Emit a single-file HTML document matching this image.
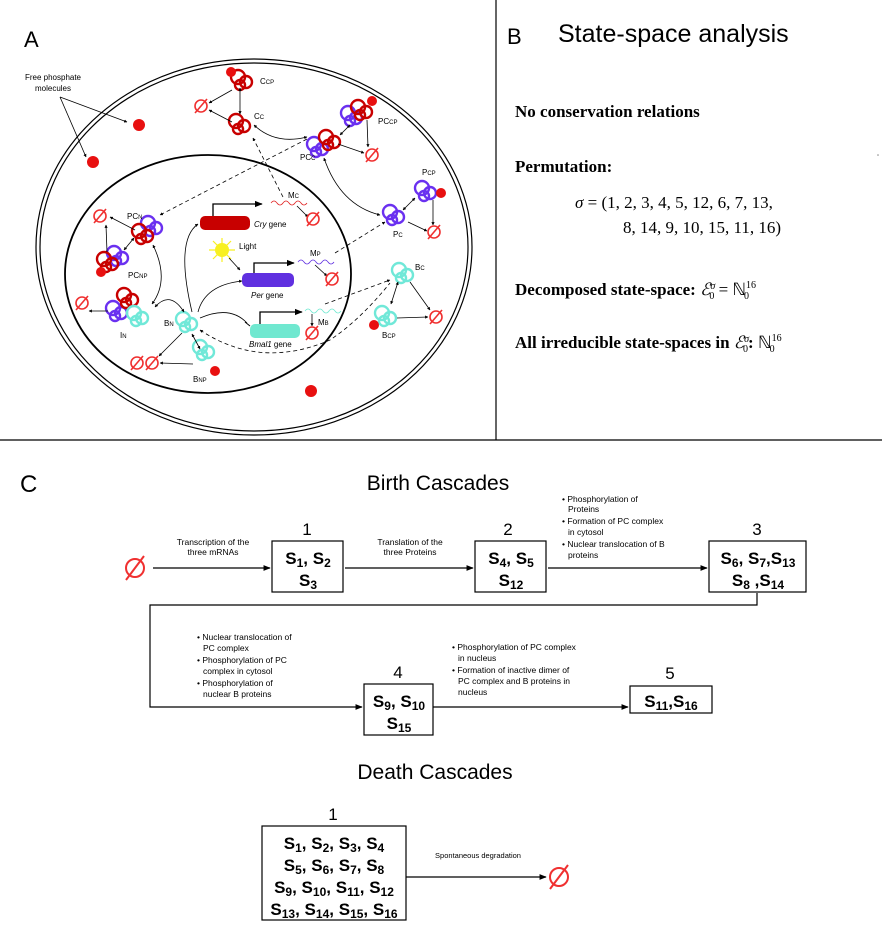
<!DOCTYPE html>
<html><head><meta charset="utf-8"><style>
body{margin:0;background:#fff}
svg{display:block}
.s{font-family:"Liberation Sans",sans-serif}
.sf{font-family:"Liberation Serif",serif}
</style></head><body>
<svg width="882" height="945" viewBox="0 0 882 945" xmlns="http://www.w3.org/2000/svg">
<defs>
<marker id="a" viewBox="0 0 10 10" refX="9" refY="5" markerWidth="6" markerHeight="6" orient="auto-start-reverse"><path d="M0,1 L10,5 L0,9z" fill="#000"/></marker>
<marker id="b" viewBox="0 0 10 10" refX="9" refY="5" markerWidth="4" markerHeight="4" orient="auto-start-reverse"><path d="M0,0 L10,5 L0,10z" fill="#000"/></marker>
<g id="nul"><circle r="6" fill="none" stroke="#f03030" stroke-width="1.6"/><line x1="-6" y1="7" x2="6" y2="-7" stroke="#f03030" stroke-width="1.6"/></g>
<g id="red"><circle cx="-4" cy="-3" r="7" fill="none" stroke="#c80000" stroke-width="2.4"/><circle cx="4" cy="2" r="6" fill="none" stroke="#c80000" stroke-width="2.4"/><circle cx="-2" cy="5" r="5" fill="none" stroke="#c80000" stroke-width="2.4"/></g>
<g id="pur"><circle cx="-4" cy="-3" r="7" fill="none" stroke="#6a30f0" stroke-width="2.4"/><circle cx="4" cy="2" r="6" fill="none" stroke="#6a30f0" stroke-width="2.4"/><circle cx="-2" cy="5" r="5" fill="none" stroke="#6a30f0" stroke-width="2.4"/></g>
<g id="cya"><circle cx="-4" cy="-3" r="7" fill="none" stroke="#70e8d8" stroke-width="2.4"/><circle cx="4" cy="2" r="6" fill="none" stroke="#70e8d8" stroke-width="2.4"/><circle cx="-2" cy="5" r="5" fill="none" stroke="#70e8d8" stroke-width="2.4"/></g>
</defs>

<line x1="496" y1="0" x2="496" y2="440" stroke="#000" stroke-width="1.2"/>
<line x1="0" y1="440" x2="882" y2="440" stroke="#000" stroke-width="1.2"/>

<text x="24" y="47" class="s" font-size="22">A</text>
<ellipse cx="254" cy="247" rx="218" ry="188" fill="none" stroke="#000" stroke-width="1.2"/>
<ellipse cx="254" cy="247" rx="214" ry="184" fill="none" stroke="#000" stroke-width="1.2"/>
<ellipse cx="208" cy="274" rx="143" ry="119" fill="none" stroke="#000" stroke-width="1.8"/>
<text x="53" y="80" class="s" font-size="8" text-anchor="middle">Free phosphate</text>
<text x="53" y="91" class="s" font-size="8" text-anchor="middle">molecules</text>
<line x1="60" y1="97" x2="127" y2="122" stroke="#000" stroke-width="0.8" marker-end="url(#b)"/>
<line x1="60" y1="97" x2="86" y2="157" stroke="#000" stroke-width="0.8" marker-end="url(#b)"/>
<circle cx="139" cy="125" r="6" fill="#e81010"/>
<circle cx="93" cy="162" r="6" fill="#e81010"/>
<circle cx="311" cy="391" r="6" fill="#e81010"/>

<use href="#red" x="242" y="80"/><circle cx="231" cy="72" r="5" fill="#e81010"/>
<text x="260" y="84" class="s" font-size="8">C<tspan font-size="6">CP</tspan></text>
<use href="#red" x="240" y="124"/><text x="254" y="119" class="s" font-size="8">C<tspan font-size="6">C</tspan></text>
<use href="#nul" x="201" y="106"/>
<line x1="240" y1="88" x2="240" y2="114" stroke="#000" stroke-width="0.8" marker-start="url(#b)" marker-end="url(#b)"/>
<line x1="232" y1="90" x2="209" y2="103" stroke="#000" stroke-width="0.8" marker-end="url(#b)"/>
<line x1="232" y1="122" x2="209" y2="110" stroke="#000" stroke-width="0.8" marker-end="url(#b)"/>
<use href="#pur" x="352" y="116"/><use href="#red" x="362" y="110"/><circle cx="372" cy="101" r="5" fill="#e81010"/>
<text x="378" y="124" class="s" font-size="8">PC<tspan font-size="6">CP</tspan></text>
<use href="#pur" x="318" y="147"/><use href="#red" x="330" y="140"/>
<text x="300" y="160" class="s" font-size="8">PC<tspan font-size="6">C</tspan></text>
<use href="#nul" x="372" y="155"/>
<line x1="340" y1="135" x2="350" y2="125" stroke="#000" stroke-width="0.8" marker-start="url(#b)" marker-end="url(#b)"/>
<line x1="338" y1="144" x2="364" y2="153" stroke="#000" stroke-width="0.8" marker-end="url(#b)"/>
<line x1="367" y1="120" x2="368" y2="147" stroke="#000" stroke-width="0.8" marker-end="url(#b)"/>
<path d="M254,125 Q275,145 307,137" fill="none" stroke="#000" stroke-width="0.8" marker-start="url(#b)" marker-end="url(#b)"/>
<use href="#pur" x="426" y="191"/><circle cx="441" cy="193" r="5" fill="#e81010"/>
<text x="422" y="175" class="s" font-size="8">P<tspan font-size="6">CP</tspan></text>
<use href="#pur" x="394" y="215"/><text x="393" y="237" class="s" font-size="8">P<tspan font-size="6">C</tspan></text>
<use href="#nul" x="434" y="232"/>
<line x1="403" y1="210" x2="415" y2="198" stroke="#000" stroke-width="0.8" marker-start="url(#b)" marker-end="url(#b)"/>
<line x1="408" y1="222" x2="427" y2="231" stroke="#000" stroke-width="0.8" marker-end="url(#b)"/>
<line x1="433" y1="200" x2="433" y2="225" stroke="#000" stroke-width="0.8" marker-end="url(#b)"/>
<path d="M324,158 Q340,205 380,215" fill="none" stroke="#000" stroke-width="0.8" marker-start="url(#b)" marker-end="url(#b)"/>
<use href="#cya" x="403" y="273"/><text x="415" y="270" class="s" font-size="8">B<tspan font-size="6">C</tspan></text>
<use href="#cya" x="386" y="316"/><circle cx="374" cy="325" r="5" fill="#e81010"/>
<text x="382" y="338" class="s" font-size="8">B<tspan font-size="6">CP</tspan></text>
<use href="#nul" x="436" y="317"/>
<line x1="398" y1="282" x2="391" y2="304" stroke="#000" stroke-width="0.8" marker-start="url(#b)" marker-end="url(#b)"/>
<line x1="410" y1="282" x2="430" y2="310" stroke="#000" stroke-width="0.8" marker-end="url(#b)"/>
<line x1="397" y1="318" x2="428" y2="317" stroke="#000" stroke-width="0.8" marker-end="url(#b)"/>

<rect x="200" y="216" width="50" height="14" rx="5" fill="#c80000"/>
<text x="254" y="227" class="s" font-size="8"><tspan font-style="italic">Cry</tspan> gene</text>
<path d="M213,216 V204 H262" fill="none" stroke="#000" stroke-width="1.3" marker-end="url(#a)"/>
<path d="M271,203 q3,-4 6,0 t6,0 t6,0 t6,0 t6,0 t6,0" fill="none" stroke="#e02020" stroke-width="0.8"/>
<text x="288" y="198" class="s" font-size="8">M<tspan font-size="6">C</tspan></text>
<line x1="297" y1="206" x2="308" y2="217" stroke="#000" stroke-width="0.8" marker-end="url(#b)"/>
<use href="#nul" x="313" y="219"/>
<g transform="translate(222,250)"><circle r="7" fill="#f8f020"/><g stroke="#f8f020" stroke-width="1.2"><line x1="-13" y1="0" x2="13" y2="0"/><line x1="0" y1="-12" x2="0" y2="12"/><line x1="-9" y1="-9" x2="9" y2="9"/><line x1="-9" y1="9" x2="9" y2="-9"/></g></g>
<text x="239" y="249" class="s" font-size="8">Light</text>
<line x1="229" y1="258" x2="240" y2="270" stroke="#000" stroke-width="0.8" marker-end="url(#b)"/>
<rect x="242" y="273" width="52" height="14" rx="5" fill="#6030e0"/>
<text x="251" y="298" class="s" font-size="8"><tspan font-style="italic">Per</tspan> gene</text>
<path d="M254,273 V263 H294" fill="none" stroke="#000" stroke-width="1.3" marker-end="url(#a)"/>
<path d="M298,262 q3,-4 6,0 t6,0 t6,0 t6,0 t6,0 t6,0" fill="none" stroke="#6030e0" stroke-width="0.8"/>
<text x="310" y="256" class="s" font-size="8">M<tspan font-size="6">P</tspan></text>
<line x1="315" y1="265" x2="327" y2="276" stroke="#000" stroke-width="0.8" marker-end="url(#b)"/>
<use href="#nul" x="332" y="279"/>
<rect x="250" y="324" width="50" height="14" rx="5" fill="#70e8d0"/>
<text x="249" y="347" class="s" font-size="8"><tspan font-style="italic">Bmal1</tspan> gene</text>
<path d="M260,324 V312 H302" fill="none" stroke="#000" stroke-width="1.3" marker-end="url(#a)"/>
<path d="M305,311 q3,-4 6,0 t6,0 t6,0 t6,0 t6,0 t6,0" fill="none" stroke="#70e8d0" stroke-width="0.8"/>
<text x="318" y="325" class="s" font-size="8">M<tspan font-size="6">B</tspan></text>
<line x1="312" y1="314" x2="312" y2="326" stroke="#000" stroke-width="0.8" marker-end="url(#b)"/>
<use href="#nul" x="312" y="333"/>

<use href="#pur" x="152" y="226"/><use href="#red" x="143" y="234"/>
<text x="127" y="219" class="s" font-size="8">PC<tspan font-size="6">N</tspan></text>
<use href="#pur" x="118" y="256"/><use href="#red" x="108" y="262"/><circle cx="101" cy="272" r="5" fill="#e81010"/>
<text x="128" y="278" class="s" font-size="8">PC<tspan font-size="6">NP</tspan></text>
<use href="#nul" x="100" y="216"/>
<line x1="135" y1="230" x2="110" y2="217" stroke="#000" stroke-width="0.8" marker-end="url(#b)"/>
<line x1="107" y1="252" x2="106" y2="225" stroke="#000" stroke-width="0.8" marker-end="url(#b)"/>
<line x1="124" y1="250" x2="134" y2="238" stroke="#000" stroke-width="0.8" marker-start="url(#b)" marker-end="url(#b)"/>
<use href="#pur" x="117" y="311"/><use href="#red" x="128" y="298"/><use href="#cya" x="138" y="316"/>
<text x="120" y="338" class="s" font-size="8">I<tspan font-size="6">N</tspan></text>
<use href="#nul" x="82" y="303"/>
<line x1="108" y1="311" x2="89" y2="311" stroke="#000" stroke-width="0.8" marker-end="url(#b)"/>
<path d="M153,245 Q170,280 152,304" fill="none" stroke="#000" stroke-width="0.8" marker-start="url(#b)" marker-end="url(#b)"/>
<use href="#cya" x="187" y="322"/><text x="164" y="326" class="s" font-size="8">B<tspan font-size="6">N</tspan></text>
<path d="M155,307 Q170,290 184,312" fill="none" stroke="#000" stroke-width="0.8" marker-start="url(#b)" marker-end="url(#b)"/>
<use href="#cya" x="204" y="350"/><circle cx="215" cy="371" r="5" fill="#e81010"/>
<text x="193" y="382" class="s" font-size="8">B<tspan font-size="6">NP</tspan></text>
<use href="#nul" x="152" y="363"/><use href="#nul" x="137" y="363"/>
<line x1="182" y1="333" x2="159" y2="356" stroke="#000" stroke-width="0.8" marker-end="url(#b)"/>
<line x1="192" y1="334" x2="200" y2="349" stroke="#000" stroke-width="0.8" marker-start="url(#b)" marker-end="url(#b)"/>
<line x1="193" y1="364" x2="160" y2="363" stroke="#000" stroke-width="0.8" marker-end="url(#b)"/>
<path d="M192,312 Q175,240 198,224" fill="none" stroke="#000" stroke-width="0.8" marker-end="url(#b)"/>
<path d="M198,312 Q205,285 242,281" fill="none" stroke="#000" stroke-width="0.8" marker-end="url(#b)"/>
<path d="M200,318 Q230,305 247,323" fill="none" stroke="#000" stroke-width="0.8"/>
<line x1="245" y1="322" x2="250" y2="326" stroke="#000" stroke-width="1"/>
<g fill="none" stroke="#000" stroke-width="0.8" stroke-dasharray="4,3">
<path d="M307,139 L160,215" marker-end="url(#b)"/>
<path d="M283,197 L253,138" marker-end="url(#b)"/>
<path d="M335,253 L385,222" marker-end="url(#b)"/>
<path d="M325,304 L390,280" marker-end="url(#b)"/>
<path d="M200,330 Q260,370 330,340 Q360,320 390,283" marker-start="url(#b)"/>
</g>

<text x="507" y="44" class="s" font-size="22">B</text>
<text x="558" y="42" class="s" font-size="25">State-space analysis</text>
<g class="sf" font-weight="bold" font-size="17">
<text x="515" y="117">No conservation relations</text>
<text x="515" y="172">Permutation:</text>
<text x="515" y="295">Decomposed state-space: <tspan font-weight="normal" font-style="italic">ℰ</tspan><tspan font-weight="normal" font-size="10" dy="-6" font-style="italic">σ</tspan><tspan font-weight="normal" font-size="10" dx="-6" dy="10">0</tspan><tspan font-weight="normal" dy="-4"> = ℕ</tspan><tspan font-weight="normal" font-size="10" dy="-7">16</tspan><tspan font-weight="normal" font-size="10" dx="-12" dy="11">0</tspan></text>
<text x="515" y="348">All irreducible state-spaces in <tspan font-weight="normal" font-style="italic">ℰ</tspan><tspan font-weight="normal" font-size="10" dy="-6" font-style="italic">σ</tspan><tspan font-weight="normal" font-size="10" dx="-6" dy="10">0</tspan><tspan dy="-4">: </tspan><tspan font-weight="normal">ℕ</tspan><tspan font-weight="normal" font-size="10" dy="-7">16</tspan><tspan font-weight="normal" font-size="10" dx="-12" dy="11">0</tspan></text>
</g>
<g class="sf" font-size="17">
<text x="575" y="208"><tspan font-style="italic">σ</tspan> = (1, 2, 3, 4, 5, 12, 6, 7, 13,</text>
<text x="623" y="233">8, 14, 9, 10, 15, 11, 16)</text>
</g>
<circle cx="878" cy="155" r="0.8" fill="#888"/>

<text x="20" y="492" class="s" font-size="24">C</text>
<text x="438" y="490" class="s" font-size="21" text-anchor="middle">Birth Cascades</text>
<g stroke="#000" stroke-width="1.2" fill="none">
<rect x="272" y="541" width="71" height="51"/>
<rect x="475" y="541" width="71" height="51"/>
<rect x="709" y="541" width="97" height="51"/>
<rect x="364" y="684" width="69" height="51"/>
<rect x="630" y="686" width="82" height="27"/>
<rect x="262" y="826" width="144" height="94"/>
<line x1="153" y1="568" x2="270" y2="568" marker-end="url(#a)"/>
<line x1="345" y1="568" x2="473" y2="568" marker-end="url(#a)"/>
<line x1="548" y1="568" x2="707" y2="568" marker-end="url(#a)"/>
<polyline points="757,593 757,605 150,605 150,707 362,707" marker-end="url(#a)"/>
<line x1="433" y1="707" x2="628" y2="707" marker-end="url(#a)"/>
<line x1="406" y1="877" x2="546" y2="877" marker-end="url(#a)"/>
</g>
<g stroke="#f03030" stroke-width="2" fill="none">
<circle cx="135" cy="568" r="9"/><line x1="126" y1="580" x2="144" y2="556"/>
<circle cx="559" cy="877" r="9"/><line x1="550" y1="889" x2="568" y2="865"/>
</g>
<g class="s" font-size="17" text-anchor="middle">
<text x="307" y="535">1</text><text x="508" y="535">2</text><text x="757" y="535">3</text>
<text x="398" y="678">4</text><text x="670" y="679">5</text><text x="333" y="820">1</text>
</g>
<text x="435" y="779" class="s" font-size="21" text-anchor="middle">Death Cascades</text>
<g class="s" font-size="17" font-weight="bold" text-anchor="middle">
<text x="308" y="564">S<tspan font-size="12" dy="3">1</tspan><tspan dy="-3">, S</tspan><tspan font-size="12" dy="3">2</tspan></text>
<text x="308" y="586">S<tspan font-size="12" dy="3">3</tspan></text>
<text x="511" y="564">S<tspan font-size="12" dy="3">4</tspan><tspan dy="-3">, S</tspan><tspan font-size="12" dy="3">5</tspan></text>
<text x="511" y="586">S<tspan font-size="12" dy="3">12</tspan></text>
<text x="758" y="564">S<tspan font-size="12" dy="3">6</tspan><tspan dy="-3">, S</tspan><tspan font-size="12" dy="3">7</tspan><tspan dy="-3">,S</tspan><tspan font-size="12" dy="3">13</tspan></text>
<text x="758" y="586">S<tspan font-size="12" dy="3">8</tspan><tspan dy="-3"> ,S</tspan><tspan font-size="12" dy="3">14</tspan></text>
<text x="399" y="707">S<tspan font-size="12" dy="3">9</tspan><tspan dy="-3">, S</tspan><tspan font-size="12" dy="3">10</tspan></text>
<text x="399" y="729">S<tspan font-size="12" dy="3">15</tspan></text>
<text x="671" y="707">S<tspan font-size="12" dy="3">11</tspan><tspan dy="-3">,S</tspan><tspan font-size="12" dy="3">16</tspan></text>
<text x="334" y="849">S<tspan font-size="12" dy="3">1</tspan><tspan dy="-3">, S</tspan><tspan font-size="12" dy="3">2</tspan><tspan dy="-3">, S</tspan><tspan font-size="12" dy="3">3</tspan><tspan dy="-3">, S</tspan><tspan font-size="12" dy="3">4</tspan></text>
<text x="334" y="871">S<tspan font-size="12" dy="3">5</tspan><tspan dy="-3">, S</tspan><tspan font-size="12" dy="3">6</tspan><tspan dy="-3">, S</tspan><tspan font-size="12" dy="3">7</tspan><tspan dy="-3">, S</tspan><tspan font-size="12" dy="3">8</tspan></text>
<text x="334" y="893">S<tspan font-size="12" dy="3">9</tspan><tspan dy="-3">, S</tspan><tspan font-size="12" dy="3">10</tspan><tspan dy="-3">, S</tspan><tspan font-size="12" dy="3">11</tspan><tspan dy="-3">, S</tspan><tspan font-size="12" dy="3">12</tspan></text>
<text x="334" y="915">S<tspan font-size="12" dy="3">13</tspan><tspan dy="-3">, S</tspan><tspan font-size="12" dy="3">14</tspan><tspan dy="-3">, S</tspan><tspan font-size="12" dy="3">15</tspan><tspan dy="-3">, S</tspan><tspan font-size="12" dy="3">16</tspan></text>
</g>
<g class="s" font-size="8.5">
<text x="213" y="545" text-anchor="middle">Transcription of the</text>
<text x="213" y="555" text-anchor="middle">three mRNAs</text>
<text x="410" y="545" text-anchor="middle">Translation of the</text>
<text x="410" y="555" text-anchor="middle">three Proteins</text>
<text x="478" y="858" text-anchor="middle" font-size="7.5">Spontaneous degradation</text>
<text x="562" y="502">• Phosphorylation of</text><text x="568" y="512">Proteins</text>
<text x="562" y="524">• Formation of PC complex</text><text x="568" y="535">in cytosol</text>
<text x="562" y="547">• Nuclear translocation of B</text><text x="568" y="558">proteins</text>
<text x="197" y="640">• Nuclear translocation of</text><text x="203" y="651">PC complex</text>
<text x="197" y="663">• Phosphorylation of PC</text><text x="203" y="674">complex in cytosol</text>
<text x="197" y="686">• Phosphorylation of</text><text x="203" y="697">nuclear B proteins</text>
<text x="452" y="650">• Phosphorylation of PC complex</text><text x="458" y="661">in nucleus</text>
<text x="452" y="673">• Formation of inactive dimer of</text><text x="458" y="684">PC complex and B proteins in</text><text x="458" y="695">nucleus</text>
</g>
</svg>
</body></html>
